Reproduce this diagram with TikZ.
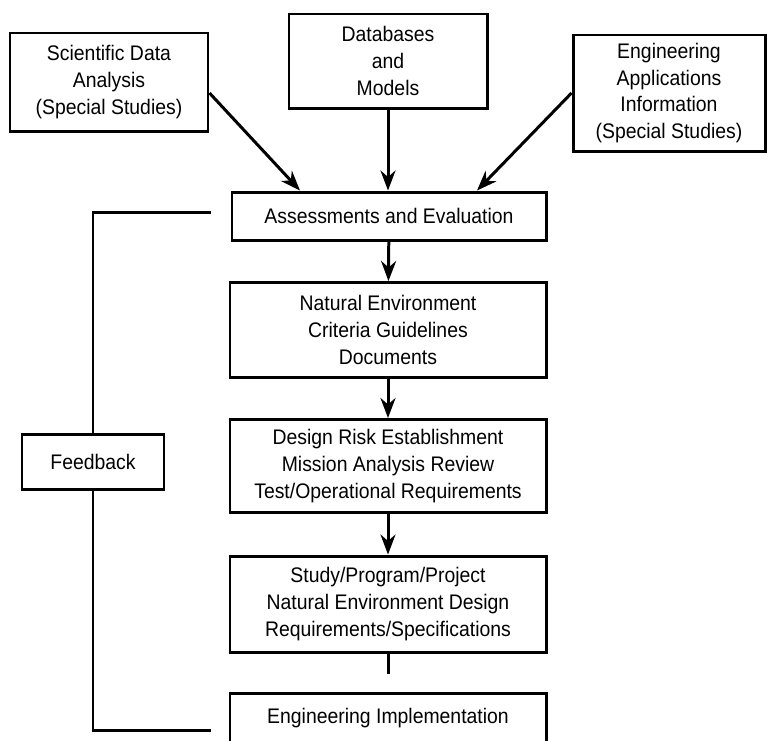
\documentclass[tikz,border=0pt]{standalone}
\usepackage{fontspec}
\setmainfont{Liberation Sans}[FakeStretch=0.92]
\usetikzlibrary{arrows.meta}
\begin{document}
\begin{tikzpicture}[box/.style={draw, line width=1.7pt, align=center,
      inner sep=2pt, font=\fontsize{12}{15.2}\selectfont}]
    \useasboundingbox (0,0) rectangle (15.34,-14.8);
    \begin{scope}[every node/.style={box}]
      \node [minimum width=3.96cm, minimum height=1.96cm] (sci) at (2.18,-1.64) {Scientific Data\\Analysis\\(Special Studies)};
      \node [minimum width=3.96cm, minimum height=1.88cm] (db) at (7.76,-1.22) {Databases\\and\\Models};
      \node [minimum width=3.84cm, minimum height=2.32cm] (eng) at (13.38,-1.86) {Engineering\\Applications\\Information\\(Special Studies)};
      \node [minimum width=6.28cm, minimum height=0.96cm] (assess) at (7.78,-4.32) {Assessments and Evaluation};
      \node [minimum width=6.32cm, minimum height=1.9cm] (natenv) at (7.76,-6.6) {Natural Environment\\Criteria Guidelines\\Documents};
      \node [minimum width=6.32cm, minimum height=1.86cm] (risk) at (7.76,-9.32) {Design Risk Establishment\\Mission Analysis Review\\Test/Operational Requirements};
      \node [minimum width=6.32cm, minimum height=1.92cm] (study) at (7.76,-12.08) {Study/Program/Project\\Natural Environment Design\\Requirements/Specifications};
      \node [minimum width=6.32cm, minimum height=1.0cm] (impl) at (7.76,-14.36) {Engineering Implementation};
      \node [minimum width=2.84cm, minimum height=1.1cm] (fb) at (1.86,-9.23) {Feedback};
    \end{scope}

    \coordinate (fbtop) at (4.22,-4.24);
    \coordinate (fbbot) at (4.22,-14.6);
    \coordinate (studyend) at (7.76,-13.48);

    \begin{scope}[->, >={Stealth[length=4mm, width=3mm]}, line width=1.7pt]
      \draw ([yshift=-2.2mm]sci.east) to ([xshift=-1.78cm]assess.north);
      \draw (db.south) to (db.south |- assess.north);
      \draw (eng.west) to ([xshift=1.76cm]assess.north);
      \draw (assess) to (natenv);
      \draw (natenv) to (risk);
      \draw (risk) to (study);
    \end{scope}

    \begin{scope}[line width=1.7pt]
      \draw (study.south) to (studyend);
      \draw (fbtop) -| (fb.north);
      \draw (fb.south) |- (fbbot);
    \end{scope}
  \end{tikzpicture}
\end{document}
